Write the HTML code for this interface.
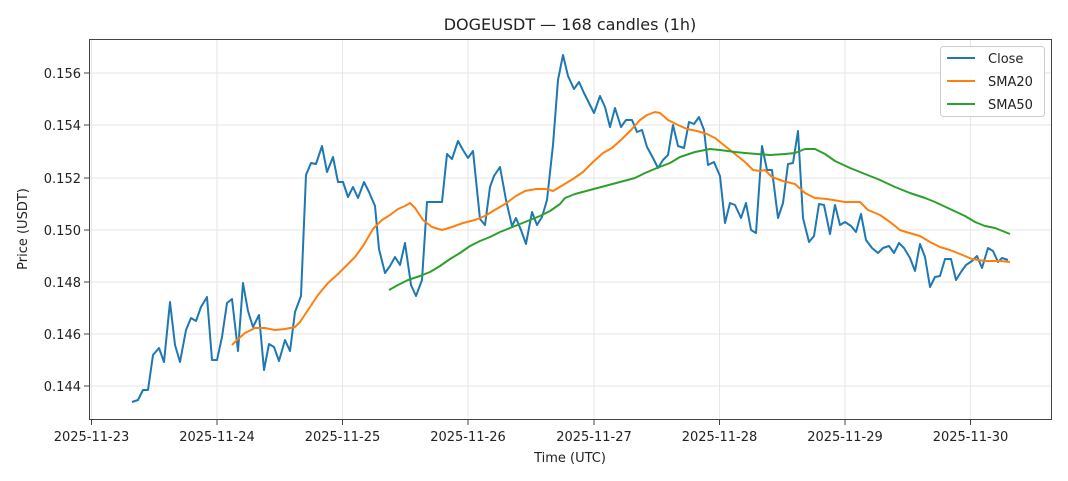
<!DOCTYPE html>
<html><head><meta charset="utf-8"><style>body{margin:0;background:#fff}svg{display:block}text{font-family:"DejaVu Sans","Liberation Sans",sans-serif;fill:#222}</style></head>
<body>
<svg width="1068" height="481" viewBox="0 0 1068 481">
<text x="570" y="30" font-size="16" text-anchor="middle">DOGEUSDT — 168 candles (1h)</text>
<g stroke="#e6e6e6" stroke-width="1">
<line x1="89" x2="1052" y1="73" y2="73"/><line x1="89" x2="1052" y1="125" y2="125"/><line x1="89" x2="1052" y1="178" y2="178"/><line x1="89" x2="1052" y1="230" y2="230"/><line x1="89" x2="1052" y1="282" y2="282"/><line x1="89" x2="1052" y1="334" y2="334"/><line x1="89" x2="1052" y1="386" y2="386"/>
<line y1="39" y2="419" x1="91.5" x2="91.5"/><line y1="39" y2="419" x1="217" x2="217"/><line y1="39" y2="419" x1="342.5" x2="342.5"/><line y1="39" y2="419" x1="468" x2="468"/><line y1="39" y2="419" x1="594" x2="594"/><line y1="39" y2="419" x1="719.5" x2="719.5"/><line y1="39" y2="419" x1="845" x2="845"/><line y1="39" y2="419" x1="970.5" x2="970.5"/>
</g>
<rect x="89.5" y="39.5" width="962" height="380" fill="none" stroke="#444" stroke-width="1"/>
<g stroke="#444"><line x1="84" x2="89" y1="73" y2="73"/><line x1="84" x2="89" y1="125" y2="125"/><line x1="84" x2="89" y1="178" y2="178"/><line x1="84" x2="89" y1="230" y2="230"/><line x1="84" x2="89" y1="282" y2="282"/><line x1="84" x2="89" y1="334" y2="334"/><line x1="84" x2="89" y1="386" y2="386"/>
<line y1="420" y2="425" x1="91.5" x2="91.5"/><line y1="420" y2="425" x1="217" x2="217"/><line y1="420" y2="425" x1="342.5" x2="342.5"/><line y1="420" y2="425" x1="468" x2="468"/><line y1="420" y2="425" x1="594" x2="594"/><line y1="420" y2="425" x1="719.5" x2="719.5"/><line y1="420" y2="425" x1="845" x2="845"/><line y1="420" y2="425" x1="970.5" x2="970.5"/></g>
<g font-size="13" text-anchor="end"><text x="81" y="78">0.156</text><text x="81" y="130">0.154</text><text x="81" y="183">0.152</text><text x="81" y="235">0.150</text><text x="81" y="287">0.148</text><text x="81" y="339">0.146</text><text x="81" y="391">0.144</text></g>
<g font-size="13" text-anchor="middle"><text x="91.5" y="441">2025-11-23</text><text x="217" y="441">2025-11-24</text><text x="342.5" y="441">2025-11-25</text><text x="468" y="441">2025-11-26</text><text x="594" y="441">2025-11-27</text><text x="719.5" y="441">2025-11-28</text><text x="845" y="441">2025-11-29</text><text x="970.5" y="441">2025-11-30</text></g>
<text x="570" y="462" font-size="13" text-anchor="middle">Time (UTC)</text>
<text transform="translate(27,229) rotate(-90)" font-size="13" text-anchor="middle">Price (USDT)</text>
<polyline fill="none" stroke="#1f77b4" stroke-width="2" stroke-linejoin="round" points="132,402 138,400 143,390 148,390 153,355 159,348 164,362 170,302 175,345 180,362 186,330 191,318 196,321 201,307 207,297 212,360 217,360 222,337 227,303 232,299 238,351 243,283 248,311 253,327 259,315 264,370 269,344 274,347 279,361 285,340 290,351 295,312 301,296 306,175 311,163 316,164 322,146 327,172 333,157 338,182 343,182 348,197 353,187 358,198 364,182 369,192 375,206 379,249 385,273 390,266 395,257 400,265 405,243 411,285 416,296 422,280 427,202 432,202 442,202 447,154 452,159 458,141 463,150 468,158 473,151 480,219 485,225 490,187 494,176 500,167 506,200 512,226 516,218 521,230 526,244 532,212 537,225 542,217 547,200 553,145 558,80 563,55 568,76 574,89 579,82 584,93 590,105 594,113 600,96 605,107 610,127 615,108 621,127 626,120 632,120 637,132 642,130 647,147 653,158 658,168 663,160 668,155 673,125 678,146 684,148 689,122 694,124 699,117 704,130 708,165 714,162 720,176 725,223 730,203 735,205 741,218 746,203 751,230 756,233 762,146 767,170 772,170 778,218 783,203 788,164 793,163 798,131 803,218 809,242 814,236 819,204 824,205 830,234 835,205 840,225 845,222 851,226 856,232 861,214 866,240 872,248 878,253 883,248 889,246 894,253 899,243 904,248 910,258 915,271 920,244 925,257 930,287 935,277 940,276 945,259 951,259 956,280 961,272 966,265 972,261 977,256 982,268 988,248 993,251 998,262 1002,258 1008,260"/>
<polyline fill="none" stroke="#ff7f0e" stroke-width="2" stroke-linejoin="round" points="232,345 237,340 245,333 255,328 265,328 275,330 285,329 295,327 300,322 310,307 318,295 328,283 338,274 345,267 355,257 363,246 373,229 382,220 390,215 398,209 405,206 410,203 415,208 423,220 432,227 442,230 452,227 463,223 475,220 485,216 493,211 505,204 516,196 525,191 536,189 546,189 553,191 563,185 573,179 583,172 593,162 603,153 612,148 622,139 632,129 640,120 647,115 655,112 660,113 668,120 678,125 687,129 697,131 707,134 715,138 725,146 735,154 745,162 753,170 760,171 765,170 772,177 783,181 795,184 805,193 815,198 827,199 845,202 860,202 868,210 880,215 890,222 900,230 906,232 920,236 930,242 940,247 950,250 960,254 972,259 985,261 1000,261 1010,262"/>
<polyline fill="none" stroke="#2ca02c" stroke-width="2" stroke-linejoin="round" points="389,290 398,285 408,280 420,276 430,272 440,266 450,259 460,253 470,246 480,241 490,237 500,232 510,228 520,224 530,220 540,216 550,211 560,204 565,198 575,194 590,190 605,186 620,182 635,178 645,173 657,168 670,163 680,157 695,152 710,149 720,150 735,152 745,153 757,154 770,155 785,154 795,153 805,149 815,149 825,154 835,161 850,168 865,174 880,180 895,187 910,193 925,198 935,202 950,209 965,216 975,222 985,226 995,228 1010,234"/>
<rect x="940.5" y="46.5" width="104" height="70" rx="3" fill="#fff" fill-opacity="0.85" stroke="#ccc"/>
<line x1="947" x2="975" y1="58" y2="58" stroke="#1f77b4" stroke-width="2"/>
<line x1="947" x2="975" y1="81" y2="81" stroke="#ff7f0e" stroke-width="2"/>
<line x1="947" x2="975" y1="104" y2="104" stroke="#2ca02c" stroke-width="2"/>
<g font-size="13"><text x="988" y="63">Close</text><text x="988" y="86">SMA20</text><text x="988" y="109">SMA50</text></g>
</svg>
</body></html>
